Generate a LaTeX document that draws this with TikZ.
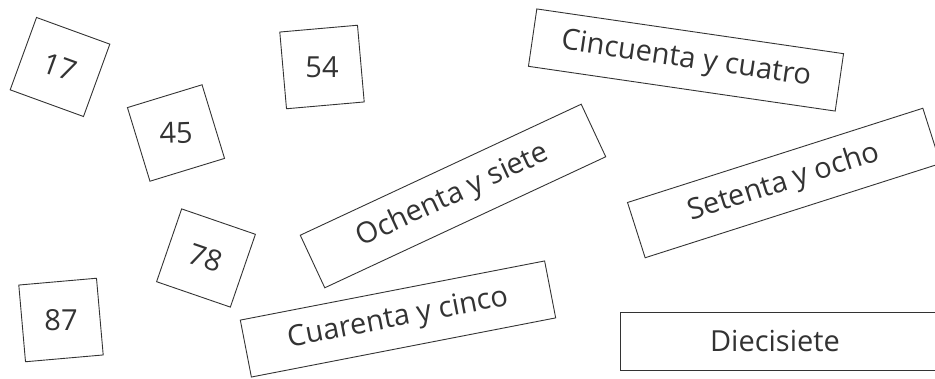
\documentclass[tikz,border=0pt]{standalone}
\usepackage{fontspec}
\setmainfont{Open Sans}
\usepackage{graphicx}
\definecolor{ink}{HTML}{333333}
\tikzset{
    %Define style for number boxes
    numbox/.style={
           rectangle,
           draw=ink, line width=0.9pt,
           text=ink,
           minimum width=78pt,
           minimum height=77pt,
           inner sep=0pt,
           font=\fontsize{29}{34}\selectfont},
    %Define style for word boxes
    wordbox/.style={
           rectangle,
           draw=ink, line width=0.9pt,
           text=ink,
           minimum width=310pt,
           minimum height=58pt,
           inner sep=0pt,
           font=\fontsize{29}{34}\selectfont}
}
\begin{document}
\begin{tikzpicture}[x=1pt, y=-1pt]
    \useasboundingbox (0,0) rectangle (935,379);
 %number boxes
    \node[numbox, rotate=-20] (n17) at (60,67) {17};
    \node[numbox, rotate=17] (n45) at (176,133) {\rotatebox{-15}{45}};
    \node[numbox, rotate=5] (n54) at (322,67) {\rotatebox{-5}{54}};
    \node[numbox, rotate=-19] (n78) at (206,258) {78};
    \node[numbox, rotate=5] (n87) at (61,320) {\rotatebox{-5}{87}};
 %word boxes
    \node[wordbox, rotate=-8.3] (w54) at (686,60) {Cincuenta y cuatro};
    \node[wordbox, rotate=25] (w87) at (453,196) {Ochenta y siete};
    \node[wordbox, rotate=17.7] (w78) at (784,183) {Setenta y ocho};
    \node[wordbox, rotate=11] (w45) at (398,319) {Cuarenta y cinco};
    \node[wordbox, minimum width=322pt] (w17) at (781,341) {\hspace*{-12pt}Diecisiete};
\end{tikzpicture}
\end{document}
